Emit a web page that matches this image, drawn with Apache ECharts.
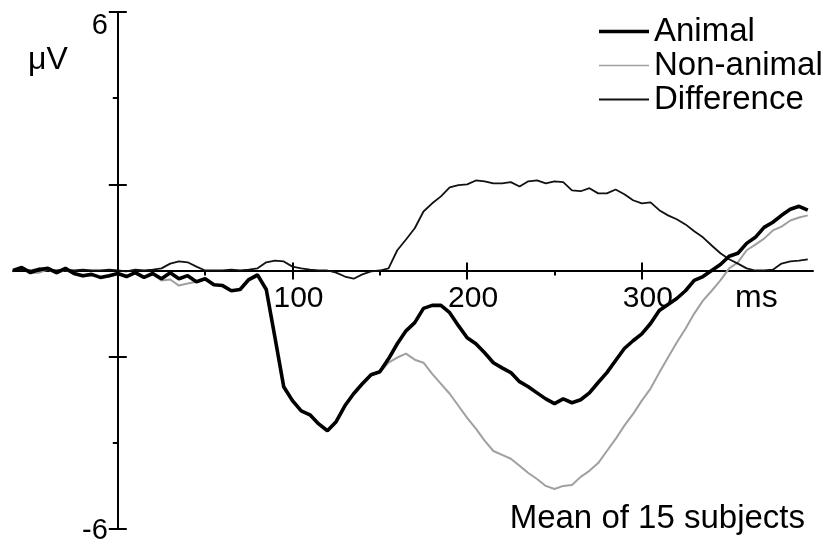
<!DOCTYPE html>
<html>
<head>
<meta charset="utf-8">
<script src="https://cdn.jsdelivr.net/npm/echarts@6/dist/echarts.min.js"></script>
<style>
html,body{margin:0;padding:0;background:#fff;}
#chart{width:827px;height:545px;}
</style>
</head>
<body>
<div id="chart"></div>
<script>
// ---- data ----
const times = [-60,-55,-50,-45,-40,-35,-30,-25,-20,-15,-10,-5,0,5,10,15,20,25,30,35,40,45,50,55,60,65,70,75,80,85,90,95,100,105,110,115,120,125,130,135,140,145,150,155,160,165,170,175,180,185,190,195,200,205,210,215,220,225,230,235,240,245,250,255,260,265,270,275,280,285,290,295,300,305,310,315,320,325,330,335,340,345,350,355,360,365,370,375,380,385,390,395];

const animal = [0.00,0.07,-0.05,0.02,0.05,-0.05,0.05,-0.07,-0.12,-0.09,-0.16,-0.12,-0.07,-0.14,-0.05,-0.16,-0.07,-0.19,-0.05,-0.19,-0.12,-0.26,-0.19,-0.33,-0.35,-0.47,-0.44,-0.21,-0.10,-0.44,-1.56,-2.70,-3.02,-3.26,-3.35,-3.56,-3.72,-3.51,-3.14,-2.86,-2.63,-2.42,-2.35,-2.05,-1.70,-1.40,-1.21,-0.88,-0.81,-0.81,-0.98,-1.28,-1.56,-1.70,-1.91,-2.14,-2.26,-2.37,-2.58,-2.70,-2.84,-2.98,-3.09,-2.98,-3.07,-3.00,-2.84,-2.60,-2.37,-2.09,-1.81,-1.63,-1.47,-1.23,-0.93,-0.79,-0.65,-0.47,-0.23,-0.14,0.00,0.14,0.33,0.40,0.63,0.77,1.00,1.12,1.28,1.42,1.49,1.40];

const nonAnimal = [0.00,0.05,-0.05,-0.05,0.02,-0.07,0.02,-0.09,-0.14,-0.09,-0.16,-0.14,-0.07,-0.12,-0.07,-0.16,-0.09,-0.23,-0.21,-0.35,-0.30,-0.26,-0.21,-0.33,-0.35,-0.47,-0.44,-0.23,-0.14,-0.47,-1.60,-2.74,-3.05,-3.26,-3.37,-3.56,-3.72,-3.51,-3.12,-2.86,-2.63,-2.42,-2.37,-2.14,-2.02,-1.93,-2.07,-2.14,-2.40,-2.63,-2.86,-3.14,-3.42,-3.67,-3.95,-4.19,-4.28,-4.37,-4.53,-4.70,-4.84,-5.00,-5.07,-5.00,-4.98,-4.79,-4.65,-4.47,-4.19,-3.91,-3.60,-3.33,-3.02,-2.74,-2.37,-2.02,-1.67,-1.35,-1.00,-0.70,-0.47,-0.23,0.05,0.19,0.47,0.60,0.74,0.93,1.02,1.16,1.23,1.28];

const difference = [0.00,0.02,0.00,0.05,0.02,0.00,0.02,0.00,0.02,0.00,0.00,0.02,0.00,-0.02,0.02,0.00,0.02,0.05,0.16,0.21,0.19,0.09,0.00,0.00,0.00,0.02,0.00,0.02,0.05,0.19,0.23,0.21,0.09,0.05,0.02,0.00,0.00,-0.05,-0.14,-0.19,-0.09,-0.02,0.00,0.05,0.47,0.72,0.98,1.37,1.56,1.72,1.93,1.98,2.00,2.09,2.07,2.02,2.02,2.05,1.95,2.07,2.09,2.02,2.07,2.05,1.86,1.84,1.91,1.79,1.79,1.88,1.77,1.63,1.56,1.58,1.40,1.28,1.19,1.07,0.91,0.77,0.58,0.40,0.26,0.16,0.05,0.00,0.00,0.02,0.16,0.21,0.23,0.26];

const xTickLabels = [100, 200, 300];
const xMinorTicks = [50, 150, 250];
const yTickLabels = [6, -6];
const yMajorTicks = [-6, -2, 2, 6];
const yMinorTicks = [-4, 4];
const seriesNames = ['Animal', 'Non-animal', 'Difference'];
const xUnit = 'ms';
const yUnit = 'μV';
const note = 'Mean of 15 subjects';

// ---- chart ----
const FONT = '"Liberation Sans", Arial, Helvetica, sans-serif';
const pairs = arr => times.map((t, i) => [t, arr[i]]);
const tickStyle = { color: '#000', width: 2 };
const zeroLine = { onZero: true, onZeroAxisIndex: 0 };

// grid geometry (pixels)
const W = 827, H = 545;
const G = { left: 13, right: 14, top: 12, bottom: 16 };
const X_MIN = -60, X_MAX = 398, Y_MIN = -6, Y_MAX = 6;
const gridW = W - G.left - G.right, gridH = H - G.top - G.bottom;
const zeroX = G.left + (0 - X_MIN) / (X_MAX - X_MIN) * gridW;
const zeroY = G.top + (Y_MAX - 0) / (Y_MAX - Y_MIN) * gridH;
// onZero axes keep their labels at the grid edge; pull them back to the zero line
const xLabelMargin = 13 - ((H - G.bottom) - zeroY);
const yLabelMargin = 10 - (zeroX - G.left);

const xBase = { type: 'value', min: X_MIN, max: X_MAX, splitLine: { show: false } };
const yBase = { type: 'value', min: Y_MIN, max: Y_MAX, splitLine: { show: false } };

const chart = echarts.init(document.getElementById('chart'), null, { renderer: 'canvas' });
chart.setOption({
  animation: false,
  backgroundColor: '#fff',
  grid: Object.assign({ outerBoundsMode: 'none', containLabel: false }, G),
  xAxis: [
    Object.assign({}, xBase, {
      position: 'bottom',
      axisLine: Object.assign({ show: true, lineStyle: { color: '#000', width: 2 } }, zeroLine),
      axisTick: { show: true, customValues: xMinorTicks, length: 5, lineStyle: tickStyle },
      axisLabel: { show: false }
    }),
    Object.assign({}, xBase, {
      position: 'bottom',
      axisLine: Object.assign({ show: false }, zeroLine),
      axisTick: { show: true, customValues: xTickLabels, length: 9, lineStyle: tickStyle },
      axisLabel: {
        show: true, customValues: xTickLabels, margin: xLabelMargin,
        fontSize: 30, fontFamily: FONT, color: '#000', padding: [0, 0, 0, 12]
      }
    }),
    Object.assign({}, xBase, {
      position: 'top',
      axisLine: Object.assign({ show: false }, zeroLine),
      axisTick: { show: true, customValues: xTickLabels, length: 8, lineStyle: tickStyle },
      axisLabel: { show: false }
    })
  ],
  yAxis: [
    Object.assign({}, yBase, {
      position: 'left',
      axisLine: Object.assign({ show: true, lineStyle: { color: '#000', width: 2 } }, zeroLine),
      axisTick: { show: true, customValues: yMajorTicks, length: 9, lineStyle: tickStyle },
      axisLabel: {
        show: true, customValues: yTickLabels, margin: yLabelMargin,
        fontSize: 29, fontFamily: FONT, color: '#000',
        formatter: v => (v > 0 ? '{t|' + v + '}' : '{b|' + v + '}'),
        rich: {
          t: { fontSize: 29, fontFamily: FONT, color: '#000', padding: [28, 0, 0, 0] },
          b: { fontSize: 29, fontFamily: FONT, color: '#000', padding: [4, 0, 0, 0] }
        }
      }
    }),
    Object.assign({}, yBase, {
      position: 'left',
      axisLine: Object.assign({ show: false }, zeroLine),
      axisTick: { show: true, customValues: yMinorTicks, length: 5, lineStyle: tickStyle },
      axisLabel: { show: false }
    }),
    Object.assign({}, yBase, {
      position: 'right',
      axisLine: Object.assign({ show: false }, zeroLine),
      axisTick: { show: true, customValues: yMajorTicks, length: 9, lineStyle: tickStyle },
      axisLabel: { show: false }
    })
  ],
  legend: {
    orient: 'vertical',
    left: 599, top: 15,
    padding: 0,
    itemWidth: 50, itemHeight: 14, itemGap: 1,
    selectedMode: false,
    textStyle: { fontSize: 33, fontFamily: FONT, color: '#000', padding: [0, 0, 0, 0] },
    data: [
      { name: seriesNames[0], icon: 'path://M0,0H50V3.5H0Z', itemStyle: { borderWidth: 0 } },
      { name: seriesNames[1], icon: 'path://M0,0H50V1.6H0Z', itemStyle: { borderWidth: 0 } },
      { name: seriesNames[2], icon: 'path://M0,0H50V2.2H0Z', itemStyle: { borderWidth: 0 } }
    ]
  },
  series: [
    {
      name: seriesNames[1], type: 'line', data: pairs(nonAnimal),
      symbol: 'none', color: '#a0a0a0',
      lineStyle: { color: '#a0a0a0', width: 2 }, z: 2
    },
    {
      name: seriesNames[2], type: 'line', data: pairs(difference),
      symbol: 'none', color: '#111',
      lineStyle: { color: '#111', width: 1.8 }, z: 3
    },
    {
      name: seriesNames[0], type: 'line', data: pairs(animal),
      symbol: 'none', color: '#000',
      lineStyle: { color: '#000', width: 3.6 }, z: 4
    }
  ],
  graphic: [
    { type: 'text', x: 28, y: 60, style: { text: yUnit, fontSize: 32, fontFamily: FONT, fill: '#000', align: 'left', verticalAlign: 'middle' } },
    { type: 'text', x: 735, y: 298, style: { text: xUnit, fontSize: 32, fontFamily: FONT, fill: '#000', align: 'left', verticalAlign: 'middle' } },
    { type: 'text', x: 805, y: 519, style: { text: note, fontSize: 33, fontFamily: FONT, fill: '#000', align: 'right', verticalAlign: 'middle' } }
  ]
});
</script>
</body>
</html>
